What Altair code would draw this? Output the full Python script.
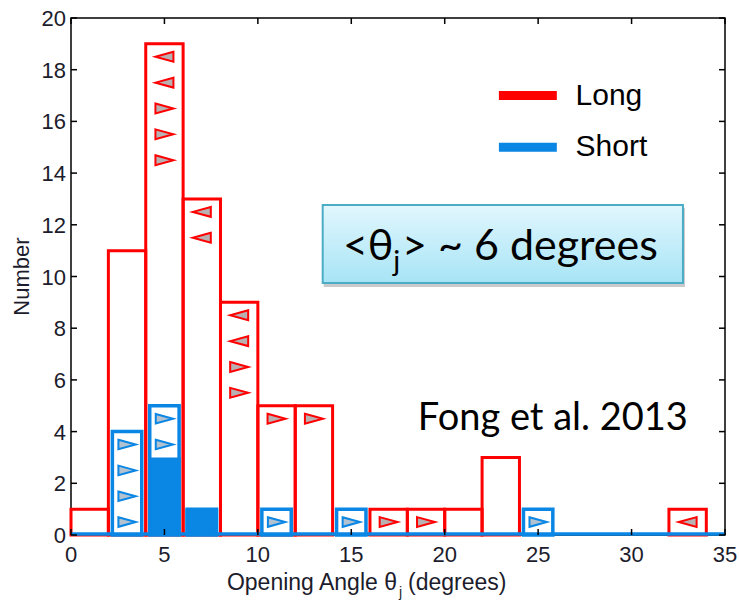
import altair as alt
import pandas as pd

# ---------------- data ----------------
bin_left = [0, 2, 4, 6, 8, 10, 12, 14, 16, 18, 20, 22, 24, 26, 28, 30, 32]
bin_width = 2
long_counts = [1, 11, 19, 13, 9, 5, 5, 0, 1, 1, 1, 3, 0, 0, 0, 0, 1]
short_counts = [0, 4, 5, 1, 0, 1, 0, 1, 0, 0, 0, 0, 1, 0, 0, 0, 0]
short_detected = [0, 0, 3, 1, 0, 0, 0, 0, 0, 0, 0, 0, 0, 0, 0, 0, 0]

long_lim_x = [5, 5, 5, 5, 5, 7, 7, 9, 9, 9, 9, 11, 13, 17, 19, 33]
long_lim_y = [18.5, 17.5, 16.5, 15.5, 14.5, 12.5, 11.5, 8.5, 7.5, 6.5, 5.5, 4.5, 4.5, 0.5, 0.5, 0.5]
long_lim_dir = ["left", "left", "right", "right", "right", "left", "left",
                "left", "left", "right", "right", "right", "right", "right", "right", "left"]
short_lim_x = [3, 3, 3, 3, 5, 5, 11, 15, 25]
short_lim_y = [3.5, 2.5, 1.5, 0.5, 4.5, 3.5, 0.5, 0.5, 0.5]
short_lim_dir = ["right", "right", "right", "right", "right", "right", "right", "right", "right"]

x_ticks = [0, 5, 10, 15, 20, 25, 30, 35]
y_ticks = [0, 2, 4, 6, 8, 10, 12, 14, 16, 18, 20]

legend_labels = ["Long", "Short"]
legend_y = [17, 15]

# ---------------- styling ----------------
RED = "#ff0000"
BLUE = "#0a86e4"
TXT = "#1c1c2c"
W, H = 654, 517
AX_FONT = "Liberation Sans"
BOX_FONT = "Lato"

xs = alt.Scale(domain=[0, 35], nice=False)
ys = alt.Scale(domain=[0, 20], nice=False)


def X(field):
    return alt.X(field, scale=xs, axis=None)


def Y(field):
    return alt.Y(field, scale=ys, axis=None)


hist = pd.DataFrame({
    "left": bin_left,
    "right": [b + bin_width for b in bin_left],
    "long": long_counts,
    "short": short_counts,
    "det": short_detected,
})

red_bars = alt.Chart(hist).transform_filter("datum.long > 0").mark_rect(
    fill="transparent", stroke=RED, strokeWidth=3, strokeJoin="miter"
).encode(x=X("left:Q"), x2="right:Q", y=Y("long:Q"), y2=alt.datum(0))

blue_fill = alt.Chart(hist).transform_filter("datum.det > 0").mark_rect(
    fill=BLUE, xOffset=2.3, x2Offset=-2.3
).encode(x=X("left:Q"), x2="right:Q", y=Y("det:Q"), y2=alt.datum(0))

blue_bars = alt.Chart(hist).transform_filter("datum.short > 0").mark_rect(
    fill="transparent", stroke=BLUE, strokeWidth=3.5, strokeJoin="miter",
    xOffset=4, x2Offset=-4
).encode(x=X("left:Q"), x2="right:Q", y=Y("short:Q"), y2=alt.datum(0))

baseline = alt.Chart(pd.DataFrame({"a": [0], "b": [35], "v": [0]})).mark_rule(
    color=BLUE, strokeWidth=3.5, yOffset=-1
).encode(x=X("a:Q"), x2="b:Q", y=Y("v:Q"))

# axis ticks (inward, on all four sides) and labels
yt = pd.DataFrame({"v": y_ticks})
xt = pd.DataFrame({"v": x_ticks})
tick_l = alt.Chart(yt).mark_rule(color="black", strokeWidth=1.5).encode(
    y=Y("v:Q"), x=alt.value(0), x2=alt.value(6))
tick_r = alt.Chart(yt).mark_rule(color="black", strokeWidth=1.5).encode(
    y=Y("v:Q"), x=alt.value(W - 6), x2=alt.value(W))
tick_b = alt.Chart(xt).mark_rule(color="black", strokeWidth=1.5).encode(
    x=X("v:Q"), y=alt.value(H - 6), y2=alt.value(H))
tick_t = alt.Chart(xt).mark_rule(color="black", strokeWidth=1.5).encode(
    x=X("v:Q"), y=alt.value(0), y2=alt.value(6))

xlab = alt.Chart(xt).mark_text(font=AX_FONT, fontSize=22, color=TXT, align="center",
                               baseline="alphabetic").encode(
    x=X("v:Q"), y=alt.value(H + 27), text=alt.Text("v:Q", format="d"))
ylab = alt.Chart(yt).mark_text(font=AX_FONT, fontSize=22, color=TXT, align="right",
                               baseline="alphabetic", dy=8).encode(
    y=Y("v:Q"), x=alt.value(-5), text=alt.Text("v:Q", format="d"))
ytitle = alt.Chart(pd.DataFrame({"t": ["Number"]})).mark_text(
    font=AX_FONT, fontSize=22, color=TXT, align="center", baseline="middle", angle=270
).encode(x=alt.value(-49.5), y=alt.value(258.5), text="t:N")

shape_scale = alt.Scale(domain=["left", "right"],
                        range=["M 1 -0.55 L -1 0 L 1 0.55 Z", "M -1 -0.55 L 1 0 L -1 0.55 Z"])

long_lim = alt.Chart(pd.DataFrame({"x": long_lim_x, "y": long_lim_y, "d": long_lim_dir})).mark_point(
    filled=True, fill="#b9b1b1", stroke=RED, strokeWidth=2, size=324, opacity=1, fillOpacity=1
).encode(x=X("x:Q"), y=Y("y:Q"), shape=alt.Shape("d:N", scale=shape_scale, legend=None))
short_lim = alt.Chart(pd.DataFrame({"x": short_lim_x, "y": short_lim_y, "d": short_lim_dir})).mark_point(
    filled=True, fill="#b3c2d0", stroke=BLUE, strokeWidth=2, size=300, opacity=1, fillOpacity=1
).encode(x=X("x:Q"), y=Y("y:Q"), shape=alt.Shape("d:N", scale=shape_scale, legend=None))

# legend (placed in data coordinates, like the original)
leg = pd.DataFrame({"lab": legend_labels, "y": legend_y, "x1": [22.9, 22.9], "x2": [26.0, 26.0],
                    "tx": [27.0, 27.0]})
leg_lines = alt.Chart(leg).mark_rule(strokeWidth=9).encode(
    x=X("x1:Q"), x2="x2:Q", y=Y("y:Q"),
    color=alt.Color("lab:N", scale=alt.Scale(domain=legend_labels, range=[RED, BLUE]), legend=None),
)
leg_text = alt.Chart(leg).mark_text(font=AX_FONT, fontSize=30, align="left", baseline="middle",
                                    color="black").encode(x=X("tx:Q"), y=Y("y:Q"), text="lab:N")

# annotation box
box = pd.DataFrame({"x1": [13.47], "x2": [32.75], "y1": [9.75], "y2": [12.77]})
box_shadow = alt.Chart(box).mark_rect(fill="#8a8a8a", opacity=0.45, xOffset=1, x2Offset=2,
                                      yOffset=4, y2Offset=3).encode(
    x=X("x1:Q"), x2="x2:Q", y=Y("y1:Q"), y2="y2:Q")
box_rect = alt.Chart(box).mark_rect(
    fill=alt.Gradient(gradient="linear",
                      stops=[alt.GradientStop(color="#e2f7fd", offset=0),
                             alt.GradientStop(color="#a7e4f6", offset=1)],
                      x1=0, x2=0, y1=0, y2=1),
    stroke="#4bacc6", strokeWidth=2,
).encode(x=X("x1:Q"), x2="x2:Q", y=Y("y1:Q"), y2="y2:Q")


def dtext(txt, x, y, size, font=BOX_FONT, align="left"):
    return alt.Chart(pd.DataFrame({"x": [x], "y": [y], "t": [txt]})).mark_text(
        font=font, fontSize=size, align=align, baseline="alphabetic", color="black"
    ).encode(x=X("x:Q"), y=Y("y:Q"), text="t:N")


box_t1 = dtext("<θ", 14.55, 10.64, 43)
box_t2 = dtext("j", 17.24, 10.22, 29)
box_t3 = dtext("> ~ 6 degrees", 17.72, 10.64, 43)
fong = dtext("Fong et al. 2013", 18.56, 4.05, 38)


def ptext(txt, x, y, size, align):
    return alt.Chart(pd.DataFrame({"t": [txt]})).mark_text(
        font=AX_FONT, fontSize=size, align=align, baseline="alphabetic", color=TXT
    ).encode(x=alt.value(x), y=alt.value(y), text="t:N")


xt1 = ptext("Opening Angle θ", 326, 572, 23, "right")
xt2 = ptext("j", 328, 579, 14, "left")
xt3 = ptext("(degrees)", 337, 572, 23, "left")

chart = alt.layer(
    red_bars, blue_fill, blue_bars, baseline,
    tick_l, tick_r, tick_b, tick_t,
    long_lim, short_lim,
    leg_lines, leg_text,
    box_shadow, box_rect, box_t1, box_t2, box_t3, fong,
    xlab, ylab, ytitle, xt1, xt2, xt3,
).properties(
    width=W, height=H,
    autosize=alt.AutoSizeParams(type="none"),
    padding={"left": 71, "top": 18, "right": 14, "bottom": 66},
    background="white",
).configure_view(stroke="black", strokeWidth=1.5)

chart.save("out.html", embed_options={"renderer": "svg", "actions": False})
